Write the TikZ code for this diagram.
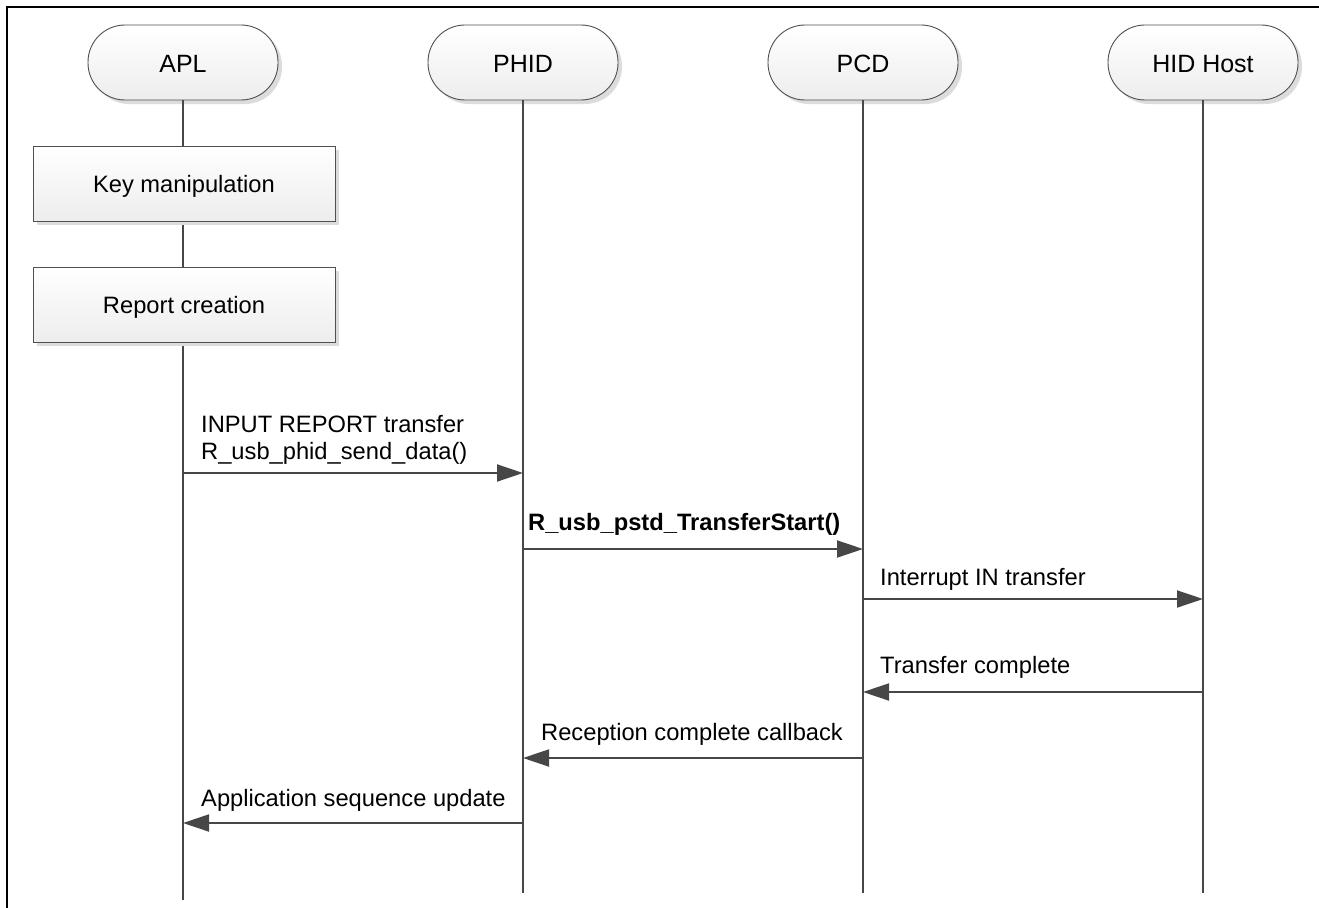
\documentclass[tikz,border=0pt]{standalone}
\usepackage{fontspec}
\setmainfont{Liberation Sans}
\usetikzlibrary{arrows.meta}
\definecolor{lineclr}{HTML}{474747}
\definecolor{edgeclr}{HTML}{505050}
\definecolor{shadowclr}{HTML}{DCDCDC}
\definecolor{fillend}{HTML}{EDEDED}
\begin{document}
\begin{tikzpicture}[x=1pt,y=-1pt,
  actor/.style={draw=edgeclr, line width=0.9pt, rounded corners=37pt,
    minimum width=190pt, minimum height=75pt, inner sep=0pt,
    text height=19pt, text depth=0pt,
    top color=white, bottom color=fillend, font=\fontsize{25}{30}\selectfont},
  actshadow/.style={fill=shadowclr, rounded corners=37pt},
  actbox/.style={draw=edgeclr, line width=0.9pt,
    minimum width=302pt, minimum height=75pt, inner sep=0pt,
    text height=17pt, text depth=0pt,
    top color=white, bottom color=fillend, font=\fontsize{23.7}{28}\selectfont},
  lifeline/.style={draw=lineclr, line width=1.9pt},
  msg/.style={draw=lineclr, line width=1.9pt,
    -{Triangle[length=26pt,width=17pt,fill=lineclr]}},
  msglabel/.style={anchor=base west, inner sep=0pt, font=\fontsize{23.7}{28}\selectfont}
]
\useasboundingbox (0,0) rectangle (1319,907);
\fill[white] (0,0) rectangle (1319,907);

% outer frame (top and left edges)
\draw[line width=2pt, line cap=rect] (7,907) -- (7,7) -- (1319,7);

% actor shadows
\foreach \cx in {183,523,863,1203}
  \fill[actshadow] (\cx-95+4,25+4) rectangle (\cx+95+4,100+4);

% actors
\node[actor] (apl)  at (183,62.5)  {APL};
\node[actor] (phid) at (523,62.5)  {PHID};
\node[actor] (pcd)  at (863,62.5)  {PCD};
\node[actor] (host) at (1203,62.5) {HID Host};

% lifeline ends
\coordinate (aplend)  at (183,900);
\coordinate (phidend) at (523,893);
\coordinate (pcdend)  at (863,893);
\coordinate (hostend) at (1203,893);

\draw[lifeline] (apl.south)  -- (aplend);
\draw[lifeline] (phid.south) -- (phidend);
\draw[lifeline] (pcd.south)  -- (pcdend);
\draw[lifeline] (host.south) -- (hostend);

% local actions on the APL lifeline
\fill[shadowclr] (33+4,146+4) rectangle (335+4,221+4);
\node[actbox] (keyman) at (184,183.5) {Key manipulation};
\fill[shadowclr] (33+4,267+4) rectangle (335+4,342+4);
\node[actbox] (repcre) at (184,304.5) {Report creation};

% message anchor points on the lifelines
\coordinate (a1) at (183,473);  \coordinate (p1) at (523,473);
\coordinate (p2) at (523,549);  \coordinate (c2) at (863,549);
\coordinate (c3) at (863,599);  \coordinate (h3) at (1203,599);
\coordinate (h4) at (1203,692); \coordinate (c4) at (863,692);
\coordinate (c5) at (863,758);  \coordinate (p5) at (523,758);
\coordinate (p6) at (523,823);  \coordinate (a6) at (183,823);

% messages
\draw[msg] (a1) -- (p1);
\draw[msg] (p2) -- (c2);
\draw[msg] (c3) -- (h3);
\draw[msg] (h4) -- (c4);
\draw[msg] (c5) -- (p5);
\draw[msg] (p6) -- (a6);

% message labels
\node[msglabel] (l1a) at (201,432) {INPUT REPORT transfer};
\node[msglabel] (l1b) at (201,459) {R\_usb\_phid\_send\_data()};
\node[msglabel, font=\fontsize{23.7}{28}\selectfont\bfseries] (l2) at (528,530) {R\_usb\_pstd\_TransferStart()};
\node[msglabel] (l3) at (880,585) {Interrupt IN transfer};
\node[msglabel] (l4) at (880,673) {Transfer complete};
\node[msglabel] (l5) at (541,740) {Reception complete callback};
\node[msglabel] (l6) at (201,806) {Application sequence update};
\end{tikzpicture}
\end{document}
